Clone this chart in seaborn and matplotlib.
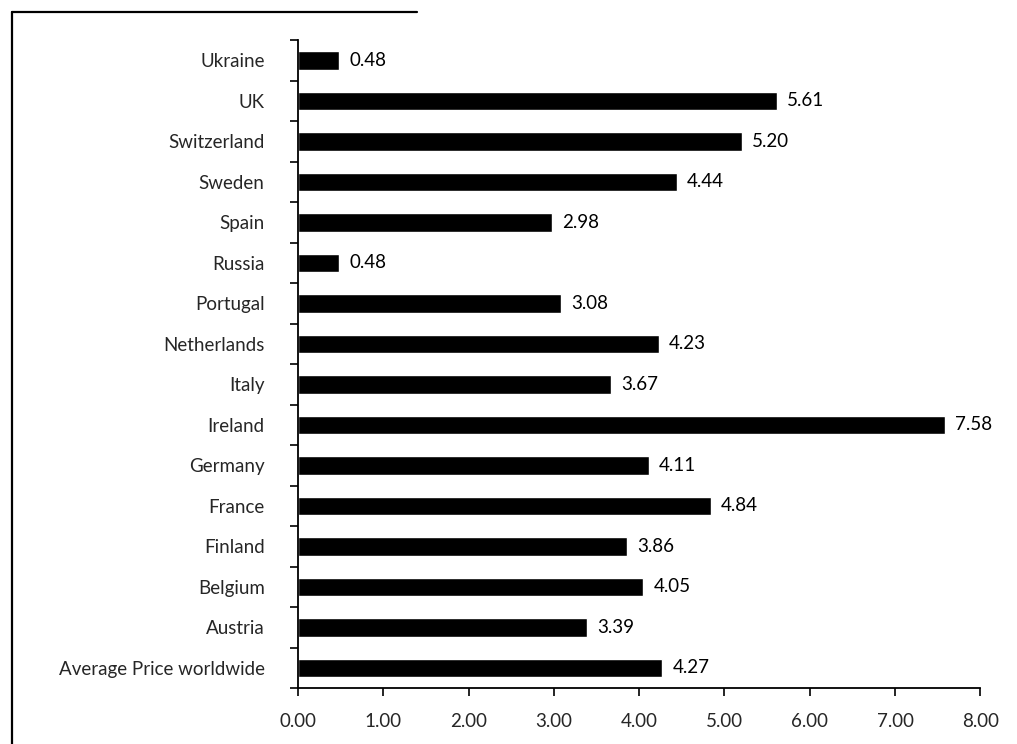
import matplotlib
matplotlib.use("Agg")
import matplotlib.pyplot as plt
import seaborn as sns
import pandas as pd
import numpy as np
from matplotlib.lines import Line2D
from matplotlib.ticker import FixedLocator

countries = ["Ukraine", "UK", "Switzerland", "Sweden", "Spain", "Russia",
             "Portugal", "Netherlands", "Italy", "Ireland", "Germany",
             "France", "Finland", "Belgium", "Austria",
             "Average Price worldwide"]
prices = [0.48, 5.61, 5.20, 4.44, 2.98, 0.48, 3.08, 4.23, 3.67, 7.58,
          4.11, 4.84, 3.86, 4.05, 3.39, 4.27]
x_ticks = [0, 1, 2, 3, 4, 5, 6, 7, 8]

sns.set_theme(style="white")
plt.rcParams["font.family"] = ["Lato", "DejaVu Sans"]

FS = 13.5

df = pd.DataFrame({"country": countries, "price": prices})

fig = plt.figure(figsize=(10.17, 7.44), dpi=100)
ax = fig.add_axes([0.293, 0.075, 0.671, 0.871])

sns.barplot(data=df, x="price", y="country", color="black",
            width=0.46, saturation=1, ax=ax, order=countries)

for i, v in enumerate(prices):
    ax.text(v + 0.12, i, f"{v:.2f}", va="center", ha="left",
            fontsize=FS, color="black")

ax.set_xlim(0, 8)
ax.set_ylim(len(countries) - 0.5, -0.5)
ax.set_xticks(x_ticks)
ax.set_xticklabels([f"{t:.2f}" for t in x_ticks], fontsize=FS)
ax.tick_params(axis="y", which="major", length=0, labelsize=FS, pad=24)
ax.yaxis.set_minor_locator(FixedLocator(np.arange(-0.5, len(countries), 1)))
ax.tick_params(axis="y", which="minor", length=6, width=1.2, color="black",
               left=True)
ax.tick_params(axis="x", which="major", length=6, width=1.2, color="black",
               bottom=True, pad=12)
ax.set_xlabel("")
ax.set_ylabel("")

for side in ["top", "right"]:
    ax.spines[side].set_visible(False)
for side in ["left", "bottom"]:
    ax.spines[side].set_visible(True)
    ax.spines[side].set_color("black")
    ax.spines[side].set_linewidth(1.3)

# outer frame remnants on the left and top edges of the figure
fig.add_artist(Line2D([0.012, 0.012], [0.0, 0.984], color="black", lw=1.6))
fig.add_artist(Line2D([0.012, 0.41], [0.984, 0.984], color="black", lw=1.6))

fig.savefig("out.png", dpi=100, facecolor="white")
